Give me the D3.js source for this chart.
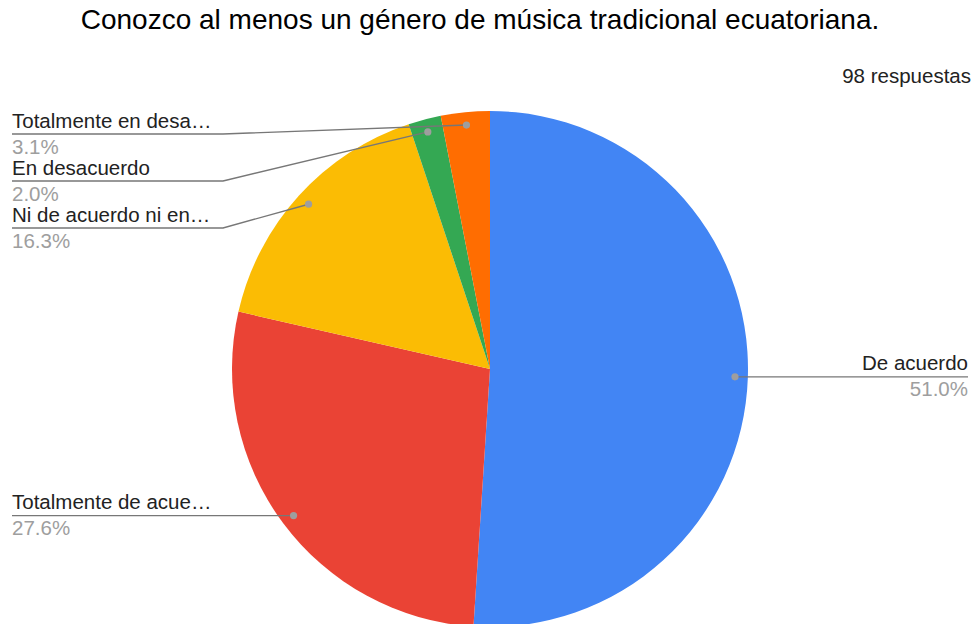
<!DOCTYPE html>
<html>
<head>
<meta charset="utf-8">
<script src="https://cdn.jsdelivr.net/npm/d3@7"></script>
<style>
  html, body { margin: 0; padding: 0; background: #fff; }
  svg { display: block; font-family: "Liberation Sans", Arial, sans-serif; }
</style>
</head>
<body>
<svg id="chart" width="976" height="624"></svg>
<script>
const title = "Conozco al menos un género de música tradicional ecuatoriana.";
const responsesLabel = "98 respuestas";
const categories = ["De acuerdo", "Totalmente de acue…", "Ni de acuerdo ni en…", "En desacuerdo", "Totalmente en desa…"];
const counts = [50, 27, 16, 2, 3];
const percentLabels = ["51.0%", "27.6%", "16.3%", "2.0%", "3.1%"];
const colors = ["#4285F4", "#EA4335", "#FBBC04", "#34A853", "#FF6D01"];

const W = 976, H = 624;
const cx = 490, cy = 369, R = 258;
const svg = d3.select("#chart");

svg.append("text")
  .attr("x", 480).attr("y", 29)
  .attr("text-anchor", "middle")
  .attr("font-size", 28).attr("fill", "#000")
  .text(title);

svg.append("text")
  .attr("x", 971).attr("y", 83)
  .attr("text-anchor", "end")
  .attr("font-size", 20.5).attr("fill", "#222")
  .text(responsesLabel);

const data = categories.map((c, i) => ({ cat: c, value: counts[i], pct: percentLabels[i], color: colors[i] }));
const pie = d3.pie().value(d => d.value).sort(null);
const arcs = pie(data);
const arc = d3.arc().innerRadius(0).outerRadius(R);

const g = svg.append("g").attr("transform", `translate(${cx},${cy})`);
g.selectAll("path").data(arcs).enter().append("path")
  .attr("d", arc)
  .attr("fill", d => d.data.color);

// label layout
const dotArc = d3.arc().innerRadius(R * 0.95).outerRadius(R * 0.95);
const items = arcs.map(a => {
  const [x, y] = dotArc.centroid(a);
  const mid = (a.startAngle + a.endAngle) / 2;
  return { a, dx: cx + x, dy: cy + y, side: mid < Math.PI ? "right" : "left" };
});

const leftX = 12, rightX = 968, elbowLeft = 223;
const minTop = 134, gap = 47;
const left = items.filter(d => d.side === "left").sort((p, q) => p.dy - q.dy);
let prev = -Infinity;
left.forEach(d => {
  d.ly = Math.max(d.dy, minTop, prev + gap);
  prev = d.ly;
});
items.filter(d => d.side === "right").forEach(d => { d.ly = d.dy; });

const lab = svg.append("g");
items.forEach(d => {
  if (d.side === "left") {
    lab.append("polyline")
      .attr("points", `${d.dx},${d.dy} ${elbowLeft},${d.ly} ${leftX},${d.ly}`)
      .attr("fill", "none").attr("stroke", "#777").attr("stroke-width", 1.4);
  } else {
    lab.append("polyline")
      .attr("points", `${d.dx},${d.dy} ${rightX},${d.ly}`)
      .attr("fill", "none").attr("stroke", "#777").attr("stroke-width", 1.4);
  }
  lab.append("circle").attr("cx", d.dx).attr("cy", d.dy).attr("r", 3.6).attr("fill", "#9e9e9e");
  const tx = d.side === "left" ? leftX : rightX;
  const anchor = d.side === "left" ? "start" : "end";
  lab.append("text")
    .attr("x", tx).attr("y", d.ly - 6.5)
    .attr("text-anchor", anchor)
    .attr("font-size", 20.5).attr("fill", "#222")
    .text(d.a.data.cat);
  lab.append("text")
    .attr("x", tx).attr("y", d.ly + 19.5)
    .attr("text-anchor", anchor)
    .attr("font-size", 20.5).attr("fill", "#9e9e9e")
    .text(d.a.data.pct);
});
</script>
</body>
</html>
